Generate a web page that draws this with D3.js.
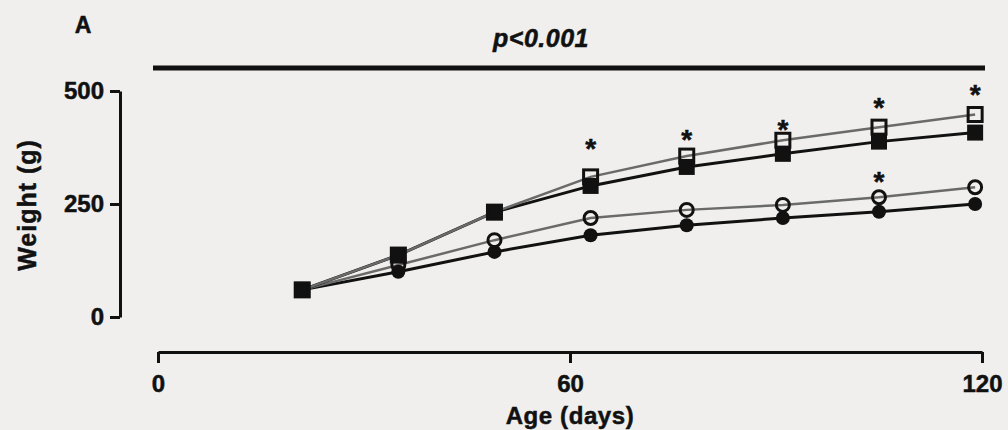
<!DOCTYPE html>
<html>
<head>
<meta charset="utf-8">
<script src="https://cdn.jsdelivr.net/npm/d3@7"></script>
<style>
  body { margin: 0; background: #f0efed; }
  svg { display: block; }
  text { font-family: "Liberation Sans", Arial, sans-serif; font-weight: bold; fill: #111; stroke: #111; stroke-width: 0.5px; }
</style>
</head>
<body>
<div id="chart"></div>
<script>
// ages in days
var days = [21, 35, 49, 63, 77, 91, 105, 119];

// weights (g) per group
var openSquare   = [60, 137, 232, 310, 356, 391, 420, 448];
var filledSquare = [60, 137, 232, 290, 332, 361, 388, 408];
var openCircle   = [60, 115, 170, 219, 237, 248, 265, 287];
var filledCircle = [60, 100, 144, 181, 203, 219, 233, 250];

// significance stars: day and weight level where they sit
var starDays   = [63, 77, 91, 105, 119, 105];
var starLevels = [390, 410, 432, 480, 508, 316];

var xTicks = [0, 60, 120];
var yTicks = [0, 250, 500];

var W = 1008, H = 430;
var svg = d3.select("#chart").append("svg").attr("width", W).attr("height", H);

var x = d3.scaleLinear().domain([0, 120]).range([158, 982]);
var y = d3.scaleLinear().domain([0, 500]).range([317, 91]);

// panel letter and p value bar
svg.append("text").attr("x", 83).attr("y", 33).attr("text-anchor", "middle")
    .attr("font-size", 23).text("A");
svg.append("text").attr("x", 541).attr("y", 47).attr("text-anchor", "middle")
    .attr("font-size", 25).attr("font-style", "italic").attr("letter-spacing", 0.5).text("p<0.001");
svg.append("line").attr("x1", 153).attr("x2", 985).attr("y1", 68).attr("y2", 68)
    .attr("stroke", "#111").attr("stroke-width", 5);

// y axis
var yAxis = svg.append("g").attr("transform", "translate(120,0)")
    .call(d3.axisLeft(y).tickValues(yTicks).tickSize(10).tickSizeOuter(0).tickPadding(6));
yAxis.selectAll("path, line").attr("stroke", "#111").attr("stroke-width", 3);
yAxis.selectAll("text").attr("font-size", 24).attr("fill", "#111")
    .style("font-family", "'Liberation Sans', Arial, sans-serif").style("font-weight", "bold");

// x axis
var xAxis = svg.append("g").attr("transform", "translate(0,352)")
    .call(d3.axisBottom(x).tickValues(xTicks).tickSize(11).tickSizeOuter(0).tickPadding(12));
xAxis.selectAll("path, line").attr("stroke", "#111").attr("stroke-width", 3);
xAxis.selectAll("text").attr("font-size", 24).attr("fill", "#111")
    .style("font-family", "'Liberation Sans', Arial, sans-serif").style("font-weight", "bold");

// axis titles
svg.append("text").attr("x", 570).attr("y", 424).attr("text-anchor", "middle")
    .attr("font-size", 24).attr("letter-spacing", 0.6).text("Age (days)");
svg.append("text").attr("transform", "translate(36,205) rotate(-90)").attr("text-anchor", "middle")
    .attr("font-size", 25).attr("letter-spacing", 1).text("Weight (g)");

var line = d3.line().x(function(d, i){ return x(days[i]); }).y(function(d){ return y(d); });

var series = [
    {vals: filledCircle, color: "#111", w: 3},
    {vals: openCircle, color: "#6a6a6a", w: 2.5},
    {vals: filledSquare, color: "#111", w: 3},
    {vals: openSquare, color: "#6a6a6a", w: 2.5}
];
series.forEach(function(s){
    svg.append("path").datum(s.vals).attr("d", line)
        .attr("fill", "none").attr("stroke", s.color).attr("stroke-width", s.w);
});

// markers
svg.append("g").selectAll("circle").data(filledCircle).enter().append("circle")
    .attr("cx", function(d, i){ return x(days[i]); }).attr("cy", function(d){ return y(d); })
    .attr("r", 7).attr("fill", "#111");
svg.append("g").selectAll("circle").data(openCircle).enter().append("circle")
    .attr("cx", function(d, i){ return x(days[i]); }).attr("cy", function(d){ return y(d); })
    .attr("r", 6.5).attr("fill", "none").attr("stroke", "#111").attr("stroke-width", 3);
svg.append("g").selectAll("rect").data(filledSquare).enter().append("rect")
    .attr("x", function(d, i){ return x(days[i]) - 8; }).attr("y", function(d){ return y(d) - 8; })
    .attr("width", 16).attr("height", 16).attr("fill", "#111");
svg.append("g").selectAll("rect").data(openSquare).enter().append("rect")
    .attr("x", function(d, i){ return x(days[i]) - 7; }).attr("y", function(d){ return y(d) - 7; })
    .attr("width", 14).attr("height", 14).attr("fill", "none").attr("stroke", "#111").attr("stroke-width", 3);

// stars
svg.append("g").selectAll("text").data(starDays).enter().append("text")
    .attr("x", function(d){ return x(d); }).attr("y", function(d, i){ return y(starLevels[i]) + 17; })
    .attr("text-anchor", "middle").attr("font-size", 28).text("*");
</script>
</body>
</html>
